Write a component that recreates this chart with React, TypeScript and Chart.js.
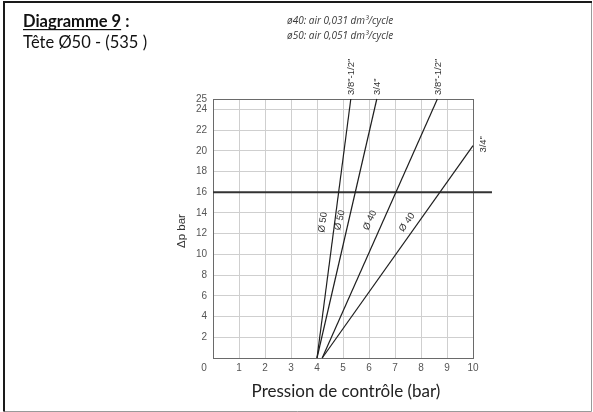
import React, { useEffect, useRef } from 'react';
import { Chart, registerables } from 'chart.js';

Chart.register(...registerables);

// Axis ticks
const xTickValues = [0, 1, 2, 3, 4, 5, 6, 7, 8, 9, 10];
const yTickValues = [0, 2, 4, 6, 8, 10, 12, 14, 16, 18, 20, 22, 24, 25];

// Curves: [x (pression de contrôle), y (Δp bar)]
const d50_38_x = [4.0, 5.3];
const d50_38_y = [0, 25];
const d50_34_x = [4.0, 6.3];
const d50_34_y = [0, 25];
const d40_38_x = [4.2, 8.63];
const d40_38_y = [0, 25];
const d40_34_x = [4.2, 10.0];
const d40_34_y = [0, 20.5];

// Reference line Δp = 16 bar
const refLine_x = [0, 10.73];
const refLine_y = [16, 16];

// Labels
const endLabels = ['3/8"-1/2"', '3/4"', '3/8"-1/2"', '3/4"'];
const diamLabels = ['Ø 50', 'Ø 50', 'Ø 40', 'Ø 40'];
const diamLabelX = [4.23, 4.88, 6.04, 7.46];
const diamLabelY = [13.1, 13.3, 13.3, 13.1];

const titleLine1 = 'Diagramme 9';
const titleLine2 = 'Tête Ø50 - (535 )';
const airLine1 = 'ø40: air 0,031 dm³/cycle';
const airLine2 = 'ø50: air 0,051 dm³/cycle';
const xTitle = 'Pression de contrôle (bar)';
const yTitle = 'Δp bar';

const toPts = (xs: number[], ys: number[]) => xs.map((x, i) => ({ x, y: ys[i] }));

export default function App() {
  const ref = useRef<HTMLCanvasElement | null>(null);

  useEffect(() => {
    document.body.style.margin = '0';
    const canvas = ref.current;
    if (!canvas) return;

    const curveStyle = {
      showLine: true,
      borderColor: '#1e1e1e',
      borderWidth: 1.2,
      pointRadius: 0,
      fill: false,
      clip: false as any,
    };

    const decor = {
      id: 'decor',
      beforeDraw(chart: any) {
        const c = chart.ctx;
        c.save();
        c.fillStyle = '#ffffff';
        c.fillRect(0, 0, chart.width, chart.height);
        c.restore();
      },
      afterDraw(chart: any) {
        const c = chart.ctx as CanvasRenderingContext2D;
        const xs = chart.scales.x;
        const ys = chart.scales.y;
        const area = chart.chartArea;
        c.save();

        // outer frame
        c.strokeStyle = '#9a9a9a';
        c.lineWidth = 1;
        c.beginPath();
        c.moveTo(591.5, 1);
        c.lineTo(591.5, 411.5);
        c.lineTo(4, 411.5);
        c.stroke();
        c.strokeStyle = '#1a1a1a';
        c.lineWidth = 2;
        c.beginPath();
        c.moveTo(4, 411.5);
        c.lineTo(4, 2);
        c.lineTo(592, 2);
        c.stroke();

        // titles
        c.fillStyle = '#111';
        c.textBaseline = 'alphabetic';
        c.textAlign = 'left';
        c.font = 'bold 16.5px Lato';
        c.fillText(titleLine1, 23, 27);
        const w1 = c.measureText(titleLine1).width;
        c.fillText(' :', 23 + w1, 27);
        c.fillRect(23, 29, w1, 1.2);
        c.font = '16.5px Lato';
        c.fillText(titleLine2, 23, 48);

        c.fillStyle = '#3a3a3a';
        c.font = 'italic 10px "Open Sans"';
        c.fillText(airLine1, 287, 24);
        c.fillText(airLine2, 287, 39);

        // axis titles
        c.fillStyle = '#222';
        c.font = '17px Lato';
        c.textAlign = 'center';
        c.textBaseline = 'middle';
        c.fillText(xTitle, (area.left + area.right) / 2 + 3, 392);
        c.save();
        c.translate(182, 231);
        c.rotate(-Math.PI / 2);
        c.font = '11.5px "Liberation Sans"';
        c.fillStyle = '#333';
        c.fillText(yTitle, 0, 0);
        c.restore();

        // corner zero
        c.font = '10px "Liberation Sans"';
        c.fillStyle = '#555';
        c.fillText('0', xs.getPixelForValue(0) - 9, ys.getPixelForValue(0) + 10);

        // end labels for the four curves
        const curves = [
          [d50_38_x, d50_38_y],
          [d50_34_x, d50_34_y],
          [d40_38_x, d40_38_y],
          [d40_34_x, d40_34_y],
        ];
        curves.forEach((cv, i) => {
          const xArr = cv[0];
          const yArr = cv[1];
          const n = xArr.length - 1;
          const px = xs.getPixelForValue(xArr[n]);
          const py = ys.getPixelForValue(yArr[n]);
          c.save();
          c.font = '9.5px "Liberation Sans"';
          c.fillStyle = '#333';
          if (py <= area.top + 1) {
            c.translate(px + 0.5, area.top - 4);
          } else {
            c.translate(area.right + 10, py + 7);
          }
          c.rotate(-Math.PI / 2);
          c.textAlign = 'left';
          c.textBaseline = 'middle';
          c.fillText(endLabels[i], 0, 0);
          c.restore();

          // diameter labels along the curve
          const x0 = xs.getPixelForValue(xArr[0]);
          const y0 = ys.getPixelForValue(yArr[0]);
          const ang = Math.atan2(py - y0, px - x0);
          const lx = xs.getPixelForValue(diamLabelX[i]);
          const ly = ys.getPixelForValue(diamLabelY[i]);
          c.save();
          c.translate(lx, ly);
          c.rotate(ang);
          c.textAlign = 'center';
          c.textBaseline = 'middle';
          c.font = '9.5px "Liberation Sans"';
          c.fillStyle = '#333';
          c.fillText(diamLabels[i], 0, 0);
          c.restore();
        });

        c.restore();
      },
    };

    const chart = new Chart(canvas, {
      type: 'scatter',
      data: {
        datasets: [
          { ...curveStyle, data: toPts(d50_38_x, d50_38_y) },
          { ...curveStyle, data: toPts(d50_34_x, d50_34_y) },
          { ...curveStyle, data: toPts(d40_38_x, d40_38_y) },
          { ...curveStyle, data: toPts(d40_34_x, d40_34_y) },
          { ...curveStyle, borderColor: '#333', borderWidth: 2, data: toPts(refLine_x, refLine_y) },
        ],
      },
      options: {
        animation: false,
        responsive: false,
        maintainAspectRatio: false,
        layout: { padding: { left: 0, right: 120, top: 99, bottom: 0 } },
        plugins: { legend: { display: false }, tooltip: { enabled: false } },
        scales: {
          x: {
            type: 'linear',
            min: 0,
            max: 10,
            afterFit: (s: any) => { s.height = 54; },
            afterBuildTicks: (s: any) => { s.ticks = xTickValues.map((v) => ({ value: v })); },
            ticks: {
              autoSkip: false,
              maxRotation: 0,
              padding: 4,
              color: '#555',
              font: { family: '"Liberation Sans"', size: 10 },
              callback: (v: any) => (v === 0 ? '' : String(v)),
            },
            grid: {
              drawTicks: false,
              color: (ctx: any) => (ctx.tick && (ctx.tick.value === 0 || ctx.tick.value === 10) ? '#6a6a6a' : '#cfcfcf'),
              lineWidth: 1,
            },
            border: { display: true, color: '#6a6a6a', width: 1 },
          },
          y: {
            type: 'linear',
            min: 0,
            max: 25,
            afterFit: (s: any) => { s.width = 213; },
            afterBuildTicks: (s: any) => { s.ticks = yTickValues.map((v) => ({ value: v })); },
            ticks: {
              autoSkip: false,
              padding: 6,
              color: '#555',
              font: { family: '"Liberation Sans"', size: 10 },
              callback: (v: any) => (v === 0 ? '' : String(v)),
            },
            grid: {
              drawTicks: false,
              color: (ctx: any) => (ctx.tick && (ctx.tick.value === 0 || ctx.tick.value === 25) ? '#6a6a6a' : '#cfcfcf'),
              lineWidth: 1,
            },
            border: { display: true, color: '#6a6a6a', width: 1 },
          },
        },
      },
      plugins: [decor],
    });

    return () => chart.destroy();
  }, []);

  return (
    <div style={{ position: 'absolute', left: 0, top: 0, width: 593, height: 412 }}>
      <canvas ref={ref} width={593} height={412} style={{ width: 593, height: 412, display: 'block' }} />
    </div>
  );
}
